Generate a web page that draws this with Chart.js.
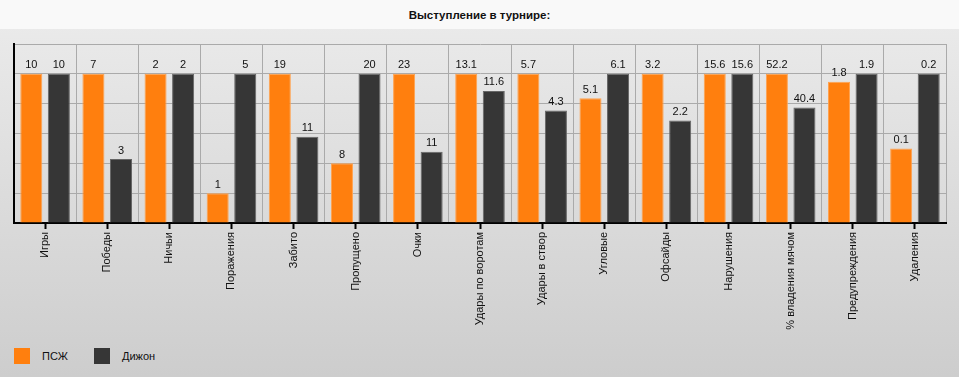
<!DOCTYPE html>
<html>
<head>
<meta charset="utf-8">
<script src="https://cdn.jsdelivr.net/npm/chart.js@4"></script>
<style>
    body { margin: 0; width: 959px; height: 377px; overflow: hidden;
           background: linear-gradient(#ececec, #cdcdcd); font-family: "Liberation Sans", Arial, sans-serif; }
    #title { height: 29px; line-height: 30px; background: #f9f9f9; text-align: center;
             font-weight: bold; font-size: 11.5px; color: #111; }
    #wrap { position: relative; width: 959px; height: 318px; }
    #legend { position: absolute; left: 14px; top: 348px; font-size: 11px; color: #111; }
    #legend span { display: inline-block; vertical-align: middle; }
    #legend .box { width: 16px; height: 16px; margin-right: 12px; }
    #legend .txt { width: 52px; }
</style>
</head>
<body>
<div id="title">Выступление в турнире:</div>
<div id="wrap"><canvas id="statsChart"></canvas></div>
<div id="legend"></div>
<script>
const categories = ["Игры", "Победы", "Ничьи", "Поражения", "Забито", "Пропущено", "Очки",
    "Удары по воротам", "Удары в створ", "Угловые", "Офсайды", "Нарушения",
    "% владения мячом", "Предупреждения", "Удаления"];
const psgValues = [10, 7, 2, 1, 19, 8, 23, 13.1, 5.7, 5.1, 3.2, 15.6, 52.2, 1.8, 0.1];
const dijonValues = [10, 3, 2, 5, 11, 20, 11, 11.6, 4.3, 6.1, 2.2, 15.6, 40.4, 1.9, 0.2];

// each pair is drawn relative to its larger value
function relative(values, other) {
    return values.map((v, i) => v / Math.max(v, other[i]) * 100);
}

const valueLabels = {
    id: "valueLabels",
    afterDatasetsDraw(chart) {
        const ctx = chart.ctx;
        ctx.save();
        ctx.font = "11px 'Liberation Sans', Arial, sans-serif";
        ctx.fillStyle = "#111";
        ctx.textAlign = "center";
        ctx.textBaseline = "bottom";
        chart.data.datasets.forEach((ds, di) => {
            chart.getDatasetMeta(di).data.forEach((bar, i) => {
                ctx.fillText(String(ds.raw[i]), bar.x, bar.y - 3);
            });
        });
        ctx.restore();
    }
};

const ctx = document.getElementById("statsChart").getContext("2d");
const chart = new Chart(ctx, {
    type: "bar",
    data: {
        labels: categories,
        datasets: [{
            label: "ПСЖ",
            raw: psgValues,
            data: relative(psgValues, dijonValues),
            backgroundColor: "#ff7f0e",
            borderColor: "#ffa24f",
            borderWidth: 1
        }, {
            label: "Дижон",
            raw: dijonValues,
            data: relative(dijonValues, psgValues),
            backgroundColor: "#363636",
            borderColor: "#666",
            borderWidth: 1
        }]
    },
    options: {
        responsive: true,
        maintainAspectRatio: false,
        animation: false,
        layout: { padding: { left: 14, right: 13, top: 15, bottom: 0 } },
        datasets: { bar: { categoryPercentage: 0.887, barPercentage: 0.8 } },
        plugins: {
            tooltip: { enabled: false },
            legend: { display: false }
        },
        scales: {
            x: {
                afterFit(scale) { scale.height = 124; },
                grid: { offset: false, drawOnChartArea: false, color: "#000", tickLength: 6, tickWidth: 2 },
                border: { color: "#000", width: 2 },
                ticks: {
                    minRotation: 90, maxRotation: 90, autoSkip: false, padding: 3,
                    color: "#111",
                    font: { size: 11, family: "'Liberation Sans', Arial, sans-serif" }
                }
            },
            x2: {
                type: "category",
                labels: categories,
                position: "top",
                grid: { offset: true, drawTicks: false, color: "#aaa" },
                border: { display: false },
                ticks: { display: false }
            },
            y: {
                min: 0, max: 120,
                grid: { color: "#aaa", drawTicks: false },
                border: { color: "#000", width: 2 },
                ticks: { display: false, stepSize: 20 }
            }
        }
    },
    plugins: [valueLabels]
});

document.getElementById("legend").innerHTML = chart.data.datasets.map(ds =>
    `<span class="box" style="background:${ds.backgroundColor}"></span><span class="txt">${ds.label}</span>`
).join("");
</script>
</body>
</html>
